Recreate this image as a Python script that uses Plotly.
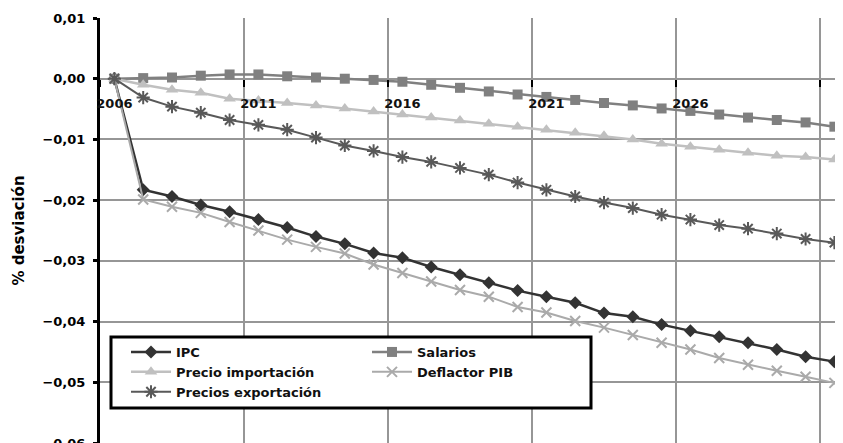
import plotly.graph_objects as go

years = list(range(2006, 2032))

ipc = [0.0, -0.0183, -0.0194, -0.0208, -0.0219, -0.0232, -0.0245, -0.0260, -0.0272, -0.0287,
       -0.0295, -0.0310, -0.0323, -0.0336, -0.0349, -0.0359, -0.0369, -0.0386, -0.0392, -0.0405,
       -0.0415, -0.0425, -0.0435, -0.0446, -0.0458, -0.0466]
salarios = [0.0, 0.0001, 0.0002, 0.0005, 0.0007, 0.0007, 0.0004, 0.0002, 0.0, -0.0002,
            -0.0005, -0.0010, -0.0015, -0.0021, -0.0026, -0.0030, -0.0035, -0.0040, -0.0044, -0.0049,
            -0.0053, -0.0059, -0.0064, -0.0068, -0.0072, -0.0079]
importacion = [0.0, -0.0010, -0.0018, -0.0023, -0.0033, -0.0036, -0.0040, -0.0044, -0.0049, -0.0054,
               -0.0059, -0.0064, -0.0069, -0.0074, -0.0079, -0.0084, -0.0089, -0.0094, -0.0100, -0.0107,
               -0.0112, -0.0117, -0.0122, -0.0127, -0.0129, -0.0133]
exportacion = [0.0, -0.0031, -0.0046, -0.0056, -0.0068, -0.0076, -0.0084, -0.0097, -0.0110, -0.0119,
               -0.0129, -0.0137, -0.0147, -0.0158, -0.0171, -0.0183, -0.0194, -0.0204, -0.0213, -0.0224,
               -0.0232, -0.0241, -0.0247, -0.0255, -0.0264, -0.0270]
deflactor = [0.0, -0.0199, -0.0211, -0.0221, -0.0236, -0.0250, -0.0265, -0.0277, -0.0288, -0.0306,
             -0.0320, -0.0334, -0.0348, -0.0359, -0.0376, -0.0385, -0.0399, -0.0410, -0.0422, -0.0435,
             -0.0446, -0.0460, -0.0471, -0.0481, -0.0491, -0.0501]

x_label_years = [2006, 2011, 2016, 2021, 2026, 2031]
x_boundaries = [2005.5, 2010.5, 2015.5, 2020.5, 2025.5, 2030.5]
y_ticks = [0.01, 0.0, -0.01, -0.02, -0.03, -0.04, -0.05, -0.06]
y_title = "% desviación"

FONT = "DejaVu Sans"
W, H = 843, 443
OFF = 8                 # default page body margin of the written html
L, T = 100, 18          # plot-area corner in window pixels
PW, PH = W - L, H - T   # plot-area size in window pixels


def px_x(p):
    return (p - L) / PW


def px_y(p):
    return 1 - (p - T) / PH


fig = go.Figure()

series = [
    ("IPC", ipc, "#333333", "diamond", 10, 2.5, "legend"),
    ("Salarios", salarios, "#808080", "square", 10, 2.5, "legend2"),
    ("Precio importación", importacion, "#C0C0C0", "triangle-up", 11, 2.5, "legend"),
    ("Deflactor PIB", deflactor, "#AAAAAA", "x-thin-open", 10, 2, "legend2"),
    ("Precios exportación", exportacion, "#595959", "asterisk-open", 11, 2, "legend"),
]
for name, vals, col, sym, size, lw, lg in series:
    marker = dict(symbol=sym, size=size, color=col)
    if sym.endswith("open"):
        marker["line"] = dict(color=col, width=2)
    fig.add_trace(go.Scatter(
        x=years, y=vals, name=name, mode="lines+markers",
        line=dict(color=col, width=lw), marker=marker, legend=lg,
    ))

leg_font = dict(family=FONT, size=13, color="#111111", weight="bold")
common_leg = dict(xanchor="left", yanchor="top", bgcolor="rgba(0,0,0,0)",
                  borderwidth=0, font=leg_font, tracegroupgap=0, itemwidth=40)

fig.update_layout(
    width=W, height=H,
    margin=dict(l=L - OFF, r=OFF, t=T - OFF, b=OFF),
    paper_bgcolor="white", plot_bgcolor="white",
    font=dict(family=FONT, color="black"),
    separators=",.",
    showlegend=True,
    legend=dict(x=px_x(126), y=px_y(337), **common_leg),
    legend2=dict(x=px_x(367), y=px_y(337), **common_leg),
    shapes=[dict(type="rect", xref="paper", yref="paper",
                 x0=px_x(111), x1=px_x(591), y0=px_y(408), y1=px_y(337),
                 line=dict(color="black", width=3), fillcolor="white", layer="above")],
    xaxis=dict(
        range=[2005.5, 2005.5 + PW / 28.8],
        anchor="free", position=0.06 / 0.07,
        automargin=False,
        tickmode="array", tickvals=x_label_years,
        ticktext=[str(v) for v in x_label_years],
        ticks="outside", ticklen=13, tickcolor="rgba(0,0,0,0)",
        tickfont=dict(family=FONT, size=13, color="#111111", weight="bold"),
        showgrid=False, showline=False, zeroline=False,
        minor=dict(tickmode="array", tickvals=x_boundaries, ticks="outside",
                   ticklen=7, tickwidth=2, tickcolor="black",
                   showgrid=True, gridcolor="#969696", gridwidth=2),
    ),
    yaxis=dict(
        range=[-0.06, 0.01],
        automargin=False,
        tickmode="array", tickvals=y_ticks, tickformat=".2f",
        ticks="outside", ticklen=4, tickwidth=3, tickcolor="black",
        ticklabelstandoff=5,
        tickfont=dict(family=FONT, size=13, color="black", weight="bold"),
        showgrid=True, gridcolor="#969696", gridwidth=2,
        zeroline=False,
        showline=True, linecolor="black", linewidth=3,
        title=dict(text=y_title, standoff=15,
                   font=dict(family=FONT, size=15, color="black", weight="bold")),
    ),
)

fig.write_html("out.html")
